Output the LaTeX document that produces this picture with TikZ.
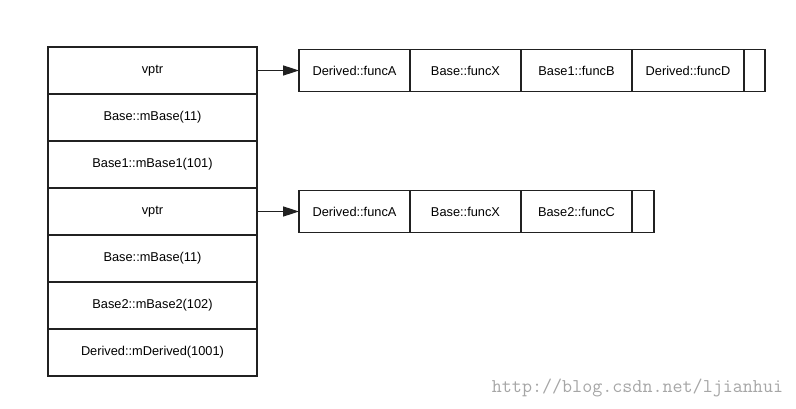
\documentclass[tikz,border=0pt]{standalone}
\usepackage{fontspec}
\setmainfont{Liberation Sans}
\usetikzlibrary{arrows.meta}
\definecolor{linegray}{rgb}{0.13, 0.13, 0.13}
\definecolor{markgray}{rgb}{0.65, 0.65, 0.65}

\begin{document}
\begin{tikzpicture}[x=1pt,y=-1pt,
  row/.style={draw=linegray,line width=1.3pt,minimum width=209pt,minimum height=47pt,inner sep=0pt,outer sep=0pt,font=\fontsize{12.8}{14}\selectfont},
  cell/.style={draw=linegray,line width=1.3pt,minimum width=111pt,minimum height=42pt,inner sep=0pt,outer sep=0pt,font=\fontsize{12.8}{14}\selectfont},
  ptr/.style={draw=linegray,line width=1.6pt,-{Triangle[length=16pt,width=10pt]}}]
\useasboundingbox (0,0) rectangle (796,409);
\node[row] (vptr1) at (152.5,70.5) {vptr};
\node[row] (mBase1) at (152.5,117.5) {Base::mBase(11)};
\node[row] (mBase11) at (152.5,164.5) {Base1::mBase1(101)};
\node[row] (vptr2) at (152.5,211.5) {vptr};
\node[row] (mBase2) at (152.5,258.5) {Base::mBase(11)};
\node[row] (mBase22) at (152.5,305.5) {Base2::mBase2(102)};
\node[row] (mDerived) at (152.5,352.5) {Derived::mDerived(1001)};
\node[cell] (funcA1) at (354.5,70.5) {Derived::funcA};
\node[cell] (funcX1) at (465.5,70.5) {Base::funcX};
\node[cell] (funcB1) at (576.5,70.5) {Base1::funcB};
\node[cell,minimum width=112pt] (funcD1) at (688,70.5) {Derived::funcD};
\node[cell,minimum width=21pt] (end1) at (754.5,70.5) {};
\node[cell] (funcA2) at (354.5,211.5) {Derived::funcA};
\node[cell] (funcX2) at (465.5,211.5) {Base::funcX};
\node[cell] (funcC2) at (576.5,211.5) {Base2::funcC};
\node[cell,minimum width=22pt] (end2) at (643,211.5) {};
\node[markgray,font=\ttfamily\fontsize{19.5}{20}\selectfont] (mark) at (637.5,388) {http://blog.csdn.net/ljianhui};
\draw[ptr] (vptr1) -- (funcA1);
\draw[ptr] (vptr2) -- (funcA2);
\end{tikzpicture}
\end{document}
